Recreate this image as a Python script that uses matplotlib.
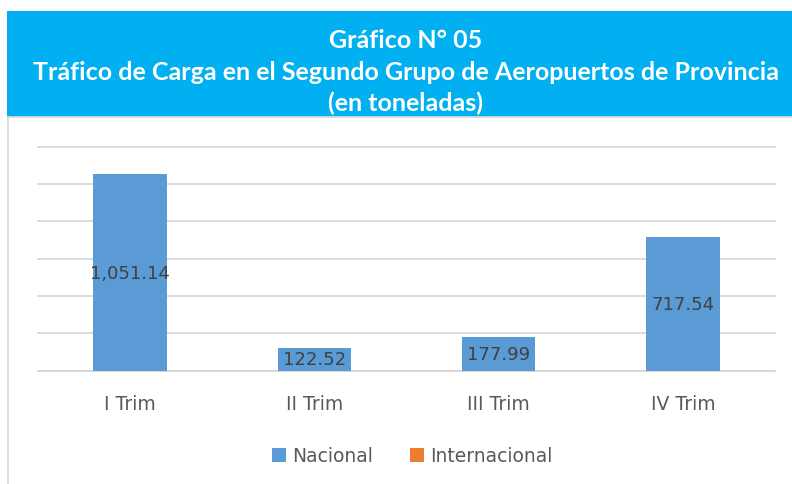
import numpy as np
import matplotlib.pyplot as plt
from matplotlib.patches import Rectangle
from matplotlib.lines import Line2D

categories = ['I Trim', 'II Trim', 'III Trim', 'IV Trim']
nacional = [1051.14, 122.52, 177.99, 717.54]
internacional = [0, 0, 0, 0]
y_ticks = [0, 200, 400, 600, 800, 1000, 1200]

title_lines = ['Gráfico N° 05',
               'Tráfico de Carga en el Segundo Grupo de Aeropuertos de Provincia',
               '(en toneladas)']

fig = plt.figure(figsize=(7.92, 4.85), dpi=100)
fig.patch.set_facecolor('white')

# title banner
fig.patches.append(Rectangle((7 / 792, 1 - 118 / 485), 1 - 7 / 792, 106 / 485,
                             transform=fig.transFigure, facecolor='#00B0F0',
                             edgecolor='none', zorder=0))
fig.lines.append(Line2D([8 / 792, 8 / 792], [0, 1 - 118 / 485], transform=fig.transFigure,
                        color='#D9D9D9', lw=1.3))
fig.lines.append(Line2D([8 / 792, 1], [1 - 118 / 485, 1 - 118 / 485], transform=fig.transFigure,
                        color='#D9D9D9', lw=1.3))
for txt, y in zip(title_lines, [40, 72, 103]):
    fig.text(406 / 792, 1 - y / 485, txt, ha='center', va='center', color='white',
             fontsize=18, fontweight='bold', family=['Lato', 'DejaVu Sans'])

ax = fig.add_axes([38 / 792, 113.3 / 485, 737 / 792, 224 / 485])
x = np.arange(len(categories))
bars = ax.bar(x, nacional, width=0.4, color='#5B9BD5', label='Nacional', zorder=3)
ax.bar(x, internacional, width=0.4, color='#ED7D31', label='Internacional', zorder=3)
ax.bar_label(bars, labels=[f'{v:,.2f}' for v in nacional], label_type='center',
             fontsize=13, color='#404040')

ax.set_xlim(-0.5, len(categories) - 0.5)
ax.set_ylim(0, 1200)
ax.set_yticks(y_ticks)
ax.set_yticklabels([])
ax.set_xticks(x)
ax.set_xticklabels(categories, fontsize=13.5, color='#595959')
ax.tick_params(axis='both', length=0)
ax.tick_params(axis='x', pad=17)
ax.grid(axis='y', color='#D9D9D9', lw=1.3, zorder=0)
for gl in ax.get_ygridlines():
    gl.set_clip_on(False)
for s in ['top', 'left', 'right']:
    ax.spines[s].set_visible(False)
ax.spines['bottom'].set_color('#D9D9D9')
ax.spines['bottom'].set_linewidth(1.3)

fig.legend(loc='center', bbox_to_anchor=(412 / 792, 28 / 485), ncol=2, frameon=False,
           fontsize=13.5, labelcolor='#595959', handlelength=0.75, handleheight=0.75,
           handletextpad=0.3, columnspacing=2.0)

plt.savefig('out.png', dpi=100)
